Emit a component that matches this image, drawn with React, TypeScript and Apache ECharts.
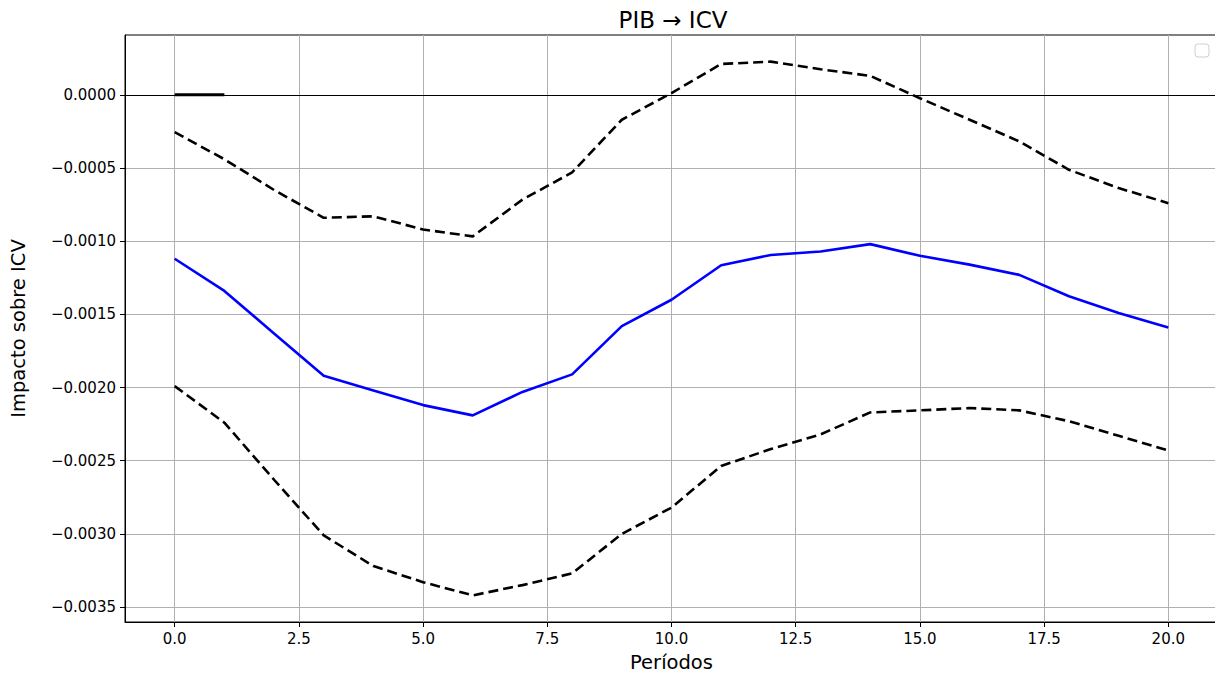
import React, { useEffect, useRef } from "react";
import * as echarts from "echarts";

const periods = [0, 1, 2, 3, 4, 5, 6, 7, 8, 9, 10, 11, 12, 13, 14, 15, 16, 17, 18, 19, 20];
const irf = [
  -0.00112, -0.00134, -0.00163, -0.00192, -0.00202, -0.00212, -0.00219, -0.00203, -0.00191, -0.00158,
  -0.0014, -0.001164, -0.001094, -0.00107, -0.00102, -0.0011, -0.00116, -0.00123, -0.001376, -0.00149, -0.00159,
];
const upper = [
  -0.000255, -0.00044, -0.00065, -0.00084, -0.00083, -0.00092, -0.000967, -0.000716, -0.00053, -0.00017,
  0.000012, 0.000211, 0.000227, 0.000175, 0.00013, -0.000023, -0.00017, -0.000318, -0.000512, -0.000637, -0.00074,
];
const lower = [
  -0.00199, -0.00224, -0.00263, -0.00301, -0.00322, -0.00333, -0.00342, -0.00335, -0.00327, -0.003,
  -0.00282, -0.002536, -0.00242, -0.00232, -0.00217, -0.002156, -0.00214, -0.002156, -0.00223, -0.00233, -0.00243,
];
const baseSegment = [
  [0, 0],
  [1, 0],
];
const xTicks = [0, 2.5, 5, 7.5, 10, 12.5, 15, 17.5, 20];
const yTicks = [-0.0035, -0.003, -0.0025, -0.002, -0.0015, -0.001, -0.0005, 0];

const FONT = "DejaVu Sans";

export default function App() {
  const ref = useRef<HTMLDivElement>(null);
  useEffect(() => {
    if (!ref.current) return;
    const chart = echarts.init(ref.current, undefined, { renderer: "svg" });
    const pair = (arr: number[]) => periods.map((p, i) => [p, arr[i]]);
    chart.setOption({
      animation: false,
      backgroundColor: "#fff",
      title: {
        text: "PIB → ICV",
        left: 668,
        top: 3,
        textAlign: "center",
        textStyle: { fontFamily: FONT, fontSize: 23, fontWeight: "normal", color: "#000" },
      },
      grid: {
        left: 123,
        right: 2,
        top: 35,
        bottom: 57,
        show: true,
        borderColor: "#000",
        borderWidth: 1,
        backgroundColor: "transparent",
      },
      xAxis: {
        type: "value",
        min: -1,
        max: 21,
        name: "Períodos",
        nameLocation: "middle",
        nameGap: 30,
        nameTextStyle: { fontFamily: FONT, fontSize: 19.5, color: "#000" },
        axisLine: { show: true, onZero: false, lineStyle: { color: "#000", width: 1 } },
        axisTick: { show: true, customValues: xTicks, length: 5, lineStyle: { color: "#000", width: 1 } },
        axisLabel: {
          customValues: xTicks,
          fontFamily: FONT,
          fontSize: 15,
          color: "#000",
          margin: 9,
          formatter: (v: number) => v.toFixed(1),
        },
        splitLine: { show: true, lineStyle: { color: "#b0b0b0", width: 1 } },
      },
      yAxis: {
        type: "value",
        min: -0.003602,
        max: 0.000409,
        name: "Impacto sobre ICV",
        nameLocation: "middle",
        nameGap: 97,
        nameTextStyle: { fontFamily: FONT, fontSize: 19.5, color: "#000" },
        axisLine: { show: true, onZero: false, lineStyle: { color: "#000", width: 1 } },
        axisTick: { show: true, customValues: yTicks, length: 5, lineStyle: { color: "#000", width: 1 } },
        axisLabel: {
          customValues: yTicks,
          fontFamily: FONT,
          fontSize: 15,
          color: "#000",
          margin: 9,
          formatter: (v: number) => (v < -1e-12 ? "−" : "") + Math.abs(v).toFixed(4),
        },
        splitLine: { show: true, lineStyle: { color: "#b0b0b0", width: 1 } },
      },
      graphic: [
        {
          type: "rect",
          shape: { x: 1195, y: 44, width: 14, height: 13, r: 3 },
          style: { fill: "#fff", stroke: "#cfcfcf", lineWidth: 1 },
          z: 100,
        },
      ],
      series: [
        {
          type: "line",
          data: pair(upper),
          symbol: "none",
          lineStyle: { color: "#000", width: 2.6, type: [10, 5] },
          markLine: {
            silent: true,
            symbol: "none",
            label: { show: false },
            lineStyle: { color: "#000", width: 1, type: "solid" },
            data: [{ yAxis: 0 }],
          },
          z: 3,
        },
        {
          type: "line",
          data: pair(lower),
          symbol: "none",
          lineStyle: { color: "#000", width: 2.6, type: [10, 5] },
          z: 3,
        },
        {
          type: "line",
          data: pair(irf),
          symbol: "none",
          lineStyle: { color: "#0000ff", width: 2.6 },
          z: 4,
        },
        {
          type: "line",
          data: baseSegment,
          symbol: "none",
          lineStyle: { color: "#000", width: 3 },
          z: 4,
        },
      ],
    });
    return () => chart.dispose();
  }, []);
  return (
    <div style={{ position: "fixed", left: 0, top: 0, width: 1215, height: 679, overflow: "hidden", background: "#fff" }}>
      <div ref={ref} style={{ width: 1220, height: 679 }} />
    </div>
  );
}
